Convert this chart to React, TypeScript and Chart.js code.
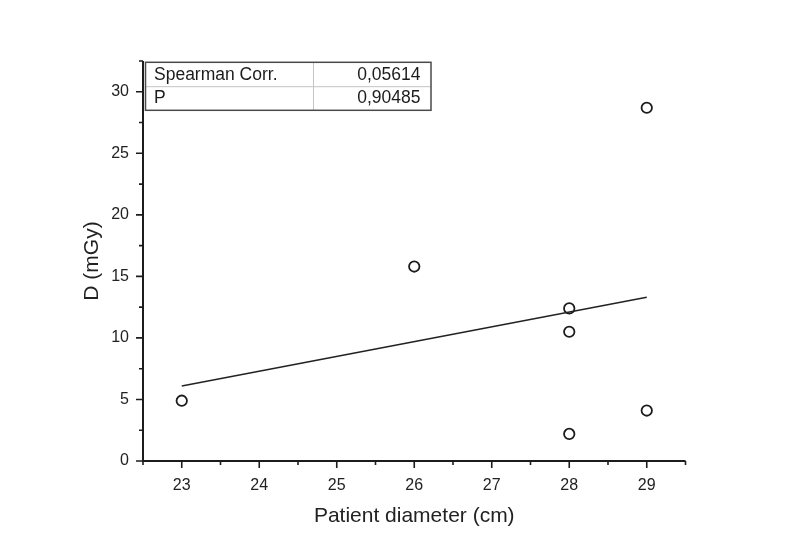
import React, { useEffect, useRef } from 'react';
import { Chart, registerables } from 'chart.js';

Chart.register(...registerables);

// ---- data ----
const diameters = [23, 26, 28, 28, 28, 29, 29];
const doses = [4.9, 15.8, 12.4, 10.5, 2.2, 4.1, 28.7];
const fitX = [23, 29];
const fitY = [6.1, 13.3];
const tableLabels = ['Spearman Corr.', 'P'];
const tableValues = ['0,05614', '0,90485'];
const xTitle = 'Patient diameter (cm)';
const yTitle = 'D (mGy)';
const xMin = 22.5;
const xMax = 29.5;
const yMin = 0;
const yMax = 32.5;

const FONT = '"Liberation Sans", Arial, sans-serif';
const INK = '#1c1c1c';

const originPlugin = {
  id: 'originAxes',
  afterDraw(chart: any) {
    const { ctx, chartArea } = chart;
    const { left, right, top, bottom } = chartArea;
    const xs = chart.scales.x;
    const ys = chart.scales.y;
    ctx.save();
    // axis lines
    ctx.strokeStyle = INK;
    ctx.lineWidth = 2;
    ctx.beginPath();
    ctx.moveTo(left, top);
    ctx.lineTo(left, bottom);
    ctx.lineTo(right, bottom);
    ctx.stroke();
    // tick marks
    ctx.lineWidth = 1.6;
    ctx.beginPath();
    xs.ticks.forEach((t: any) => {
      const px = xs.getPixelForValue(t.value);
      const len = Number.isInteger(t.value) ? 7 : 4;
      ctx.moveTo(px, bottom);
      ctx.lineTo(px, bottom + len);
    });
    ys.ticks.forEach((t: any) => {
      const py = ys.getPixelForValue(t.value);
      const len = t.value % 5 === 0 ? 7 : 4;
      ctx.moveTo(left, py);
      ctx.lineTo(left - len, py);
    });
    ctx.stroke();

    // statistics table
    const tx = left + 2.5;
    const ty = top + 1.3;
    const tw = 285.5;
    const th = 48;
    const colX = tx + 168;
    const rowY = ty + 24.4;
    ctx.strokeStyle = '#c4c4c4';
    ctx.lineWidth = 1;
    ctx.beginPath();
    ctx.moveTo(colX, ty);
    ctx.lineTo(colX, ty + th);
    ctx.moveTo(tx, rowY);
    ctx.lineTo(tx + tw, rowY);
    ctx.stroke();
    ctx.strokeStyle = '#4a4a4a';
    ctx.lineWidth = 1.5;
    ctx.strokeRect(tx, ty, tw, th);
    ctx.fillStyle = INK;
    ctx.font = `17.5px ${FONT}`;
    ctx.textBaseline = 'alphabetic';
    tableLabels.forEach((lab, i) => {
      const by = ty + 18 + i * 22.6;
      ctx.textAlign = 'left';
      ctx.fillText(lab, tx + 8.5, by);
      ctx.textAlign = 'right';
      ctx.fillText(tableValues[i], tx + tw - 10.5, by);
    });
    ctx.restore();
  },
};

export default function App() {
  const ref = useRef<HTMLCanvasElement | null>(null);

  useEffect(() => {
    if (!ref.current) return;
    const chart = new Chart(ref.current, {
      type: 'scatter',
      data: {
        datasets: [
          {
            type: 'line',
            label: 'fit',
            data: fitX.map((x, i) => ({ x, y: fitY[i] })),
            borderColor: '#222',
            borderWidth: 1.5,
            pointRadius: 0,
            fill: false,
            tension: 0,
          } as any,
          {
            label: 'D',
            data: diameters.map((x, i) => ({ x, y: doses[i] })),
            pointStyle: 'circle',
            pointRadius: 5.2,
            pointBorderWidth: 1.8,
            borderColor: INK,
            backgroundColor: 'rgba(0,0,0,0)',
            pointBackgroundColor: 'rgba(0,0,0,0)',
          },
        ],
      },
      options: {
        responsive: false,
        animation: false,
        events: [],
        layout: { padding: { left: 0, top: 61, right: 111.5, bottom: 0 } },
        plugins: {
          legend: { display: false },
          tooltip: { enabled: false },
          title: { display: false },
        },
        scales: {
          x: {
            type: 'linear',
            min: xMin,
            max: xMax,
            grid: { display: false, drawTicks: false },
            border: { display: false },
            ticks: {
              stepSize: 0.5,
              autoSkip: false,
              maxRotation: 0,
              padding: 15,
              color: '#222',
              font: { family: FONT, size: 16 },
              callback: (v: any) => (Number.isInteger(v) ? String(v) : ''),
            },
            title: {
              display: true,
              text: xTitle,
              color: '#222',
              font: { family: FONT, size: 21 },
              padding: { top: 0, bottom: 15 },
            },
            afterFit: (s: any) => {
              s.height = 83;
            },
          },
          y: {
            type: 'linear',
            min: yMin,
            max: yMax,
            grid: { display: false, drawTicks: false },
            border: { display: false },
            ticks: {
              stepSize: 2.5,
              autoSkip: false,
              padding: 14,
              color: '#222',
              font: { family: FONT, size: 16 },
              callback: (v: any) => (v % 5 === 0 ? String(v) : ''),
            },
            title: {
              display: true,
              text: yTitle,
              color: '#222',
              font: { family: FONT, size: 21 },
              padding: { top: 80, bottom: 0 },
            },
            afterFit: (s: any) => {
              s.width = 143;
            },
          },
        },
      },
      plugins: [originPlugin],
    });
    return () => chart.destroy();
  }, []);

  return (
    <div style={{ position: 'fixed', left: 0, top: 0, width: 797, height: 544, background: '#fff' }}>
      <canvas ref={ref} width={797} height={544} style={{ display: 'block' }} />
    </div>
  );
}
